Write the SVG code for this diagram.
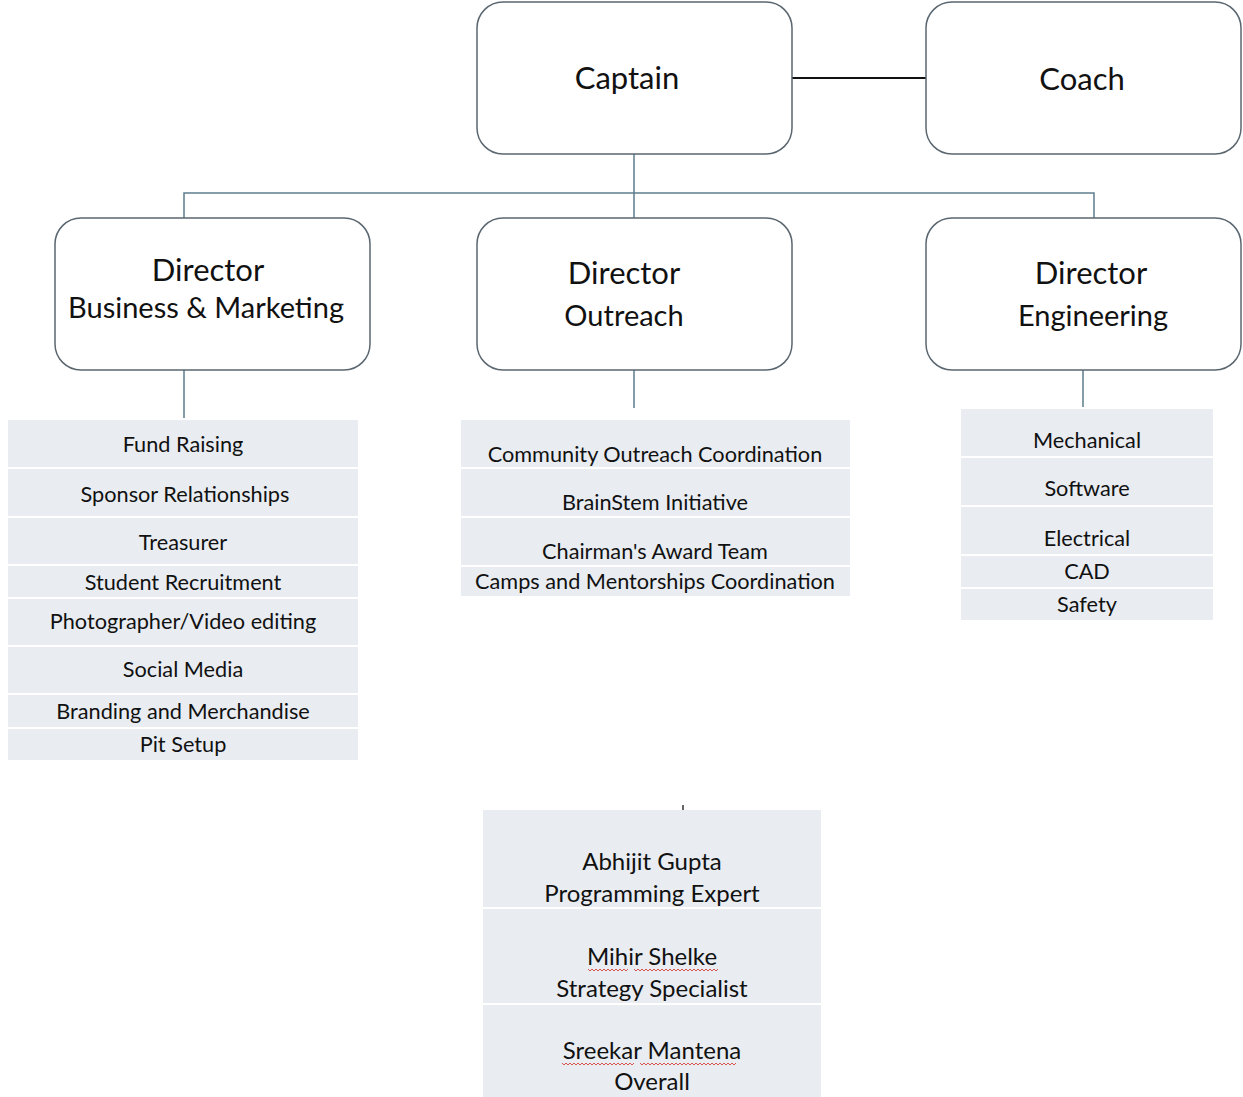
<svg xmlns="http://www.w3.org/2000/svg" width="1243" height="1097" viewBox="0 0 1243 1097">
<style>
.box{fill:#fff;stroke:#5b6770;stroke-width:1.5}
.t1{font-family:Lato,"Noto Sans",sans-serif;font-size:31px;fill:#111;text-anchor:middle}
.t2{font-family:Lato,"Noto Sans",sans-serif;font-size:29px;fill:#111;text-anchor:middle}
.li{font-family:Lato,"Noto Sans",sans-serif;font-size:21.7px;fill:#111;text-anchor:middle}
.lb{font-family:Lato,"Noto Sans",sans-serif;font-size:24px;fill:#111;text-anchor:middle}
.row{fill:#e9edf2}
.con{stroke:#5d7d8c;stroke-width:1.5;fill:none}
.wave{stroke:#d9534f;stroke-width:1;fill:none}
</style>
<rect width="1243" height="1097" fill="#fff"/>
<g id="connectors">
<line x1="792" y1="78" x2="926" y2="78" stroke="#111" stroke-width="2"/>
<polyline class="con" points="634,154 634,218"/>
<polyline class="con" points="184,218 184,193 1094,193 1094,218"/>
<line class="con" x1="184" y1="370" x2="184" y2="418"/>
<line class="con" x1="634" y1="370" x2="634" y2="408"/>
<line class="con" x1="1083" y1="370" x2="1083" y2="407"/>
<line x1="683" y1="805" x2="683" y2="811" stroke="#333" stroke-width="1.5"/>
</g>
<g id="captain"><rect class="box" x="477" y="2" width="315" height="152" rx="26"/><text class="t1" x="627" y="89">Captain</text></g>
<g id="coach"><rect class="box" x="926" y="2" width="315" height="152" rx="26"/><text class="t1" x="1082" y="90">Coach</text></g>
<g id="dir-bm"><rect class="box" x="55" y="218" width="315" height="152" rx="26"/><text class="t1" x="208" y="281">Director</text><text class="t2" x="206" y="318">Business &amp; Marketing</text></g>
<g id="dir-outreach"><rect class="box" x="477" y="218" width="315" height="152" rx="26"/><text class="t1" x="624" y="284">Director</text><text class="t2" x="624" y="326">Outreach</text></g>
<g id="dir-eng"><rect class="box" x="926" y="218" width="315" height="152" rx="26"/><text class="t1" x="1091" y="284">Director</text><text class="t2" x="1093" y="326">Engineering</text></g>
<g id="list-bm">
<rect class="row" x="8" y="420" width="350" height="47"/><text class="li" x="183" y="452">Fund Raising</text>
<rect class="row" x="8" y="469" width="350" height="47"/><text class="li" x="185" y="502">Sponsor Relationships</text>
<rect class="row" x="8" y="518" width="350" height="46"/><text class="li" x="183" y="550">Treasurer</text>
<rect class="row" x="8" y="566" width="350" height="31"/><text class="li" x="183" y="590">Student Recruitment</text>
<rect class="row" x="8" y="599" width="350" height="46"/><text class="li" x="183" y="629">Photographer/Video editing</text>
<rect class="row" x="8" y="647" width="350" height="46"/><text class="li" x="183" y="677">Social Media</text>
<rect class="row" x="8" y="695" width="350" height="32"/><text class="li" x="183" y="719">Branding and Merchandise</text>
<rect class="row" x="8" y="729" width="350" height="31"/><text class="li" x="183" y="752">Pit Setup</text>
</g>
<g id="list-outreach">
<rect class="row" x="461" y="420" width="389" height="47"/><text class="li" x="655" y="462">Community Outreach Coordination</text>
<rect class="row" x="461" y="469" width="389" height="47"/><text class="li" x="655" y="510">BrainStem Initiative</text>
<rect class="row" x="461" y="518" width="389" height="47"/><text class="li" x="655" y="559">Chairman's Award Team</text>
<rect class="row" x="461" y="567" width="389" height="29"/><text class="li" x="655" y="589">Camps and Mentorships Coordination</text>
</g>
<g id="list-eng">
<rect class="row" x="961" y="409" width="252" height="47"/><text class="li" x="1087" y="448">Mechanical</text>
<rect class="row" x="961" y="458" width="252" height="47"/><text class="li" x="1087" y="496">Software</text>
<rect class="row" x="961" y="507" width="252" height="47"/><text class="li" x="1087" y="546">Electrical</text>
<rect class="row" x="961" y="556" width="252" height="31"/><text class="li" x="1087" y="579">CAD</text>
<rect class="row" x="961" y="589" width="252" height="31"/><text class="li" x="1087" y="612">Safety</text>
</g>
<g id="list-advisors">
<rect class="row" x="483" y="810" width="338" height="97"/>
<text class="lb" x="652" y="870">Abhijit Gupta</text><text class="lb" x="652" y="902">Programming Expert</text>
<rect class="row" x="483" y="909" width="338" height="94"/>
<text class="lb" x="652" y="965">Mihir Shelke</text><text class="lb" x="652" y="997">Strategy Specialist</text>
<rect class="row" x="483" y="1005" width="338" height="92"/>
<text class="lb" x="652" y="1059">Sreekar Mantena</text><text class="lb" x="652" y="1090">Overall</text>
<path class="wave" d="M588 969 l2 2 l2 -2 l2 2 l2 -2 l2 2 l2 -2 l2 2 l2 -2 l2 2 l2 -2 l2 2 l2 -2 l2 2 l2 -2 l2 2 l2 -2 l2 2 l2 -2 l2 2 l2 -2"/>
<path class="wave" d="M634 969 l2 2 l2 -2 l2 2 l2 -2 l2 2 l2 -2 l2 2 l2 -2 l2 2 l2 -2 l2 2 l2 -2 l2 2 l2 -2 l2 2 l2 -2 l2 2 l2 -2 l2 2 l2 -2 l2 2 l2 -2 l2 2 l2 -2 l2 2 l2 -2 l2 2 l2 -2 l2 2 l2 -2 l2 2 l2 -2 l2 2 l2 -2 l2 2 l2 -2 l2 2 l2 -2 l2 2 l2 -2 l2 2 l2 -2"/>
<path class="wave" d="M562 1063 l2 2 l2 -2 l2 2 l2 -2 l2 2 l2 -2 l2 2 l2 -2 l2 2 l2 -2 l2 2 l2 -2 l2 2 l2 -2 l2 2 l2 -2 l2 2 l2 -2 l2 2 l2 -2 l2 2 l2 -2 l2 2 l2 -2 l2 2 l2 -2 l2 2 l2 -2 l2 2 l2 -2 l2 2 l2 -2 l2 2 l2 -2 l2 2 l2 -2"/>
<path class="wave" d="M640 1063 l2 2 l2 -2 l2 2 l2 -2 l2 2 l2 -2 l2 2 l2 -2 l2 2 l2 -2 l2 2 l2 -2 l2 2 l2 -2 l2 2 l2 -2 l2 2 l2 -2 l2 2 l2 -2 l2 2 l2 -2 l2 2 l2 -2 l2 2 l2 -2 l2 2 l2 -2 l2 2 l2 -2 l2 2 l2 -2 l2 2 l2 -2 l2 2 l2 -2 l2 2 l2 -2 l2 2 l2 -2 l2 2 l2 -2 l2 2 l2 -2 l2 2 l2 -2 l2 2 l2 -2"/>
</g>
</svg>
